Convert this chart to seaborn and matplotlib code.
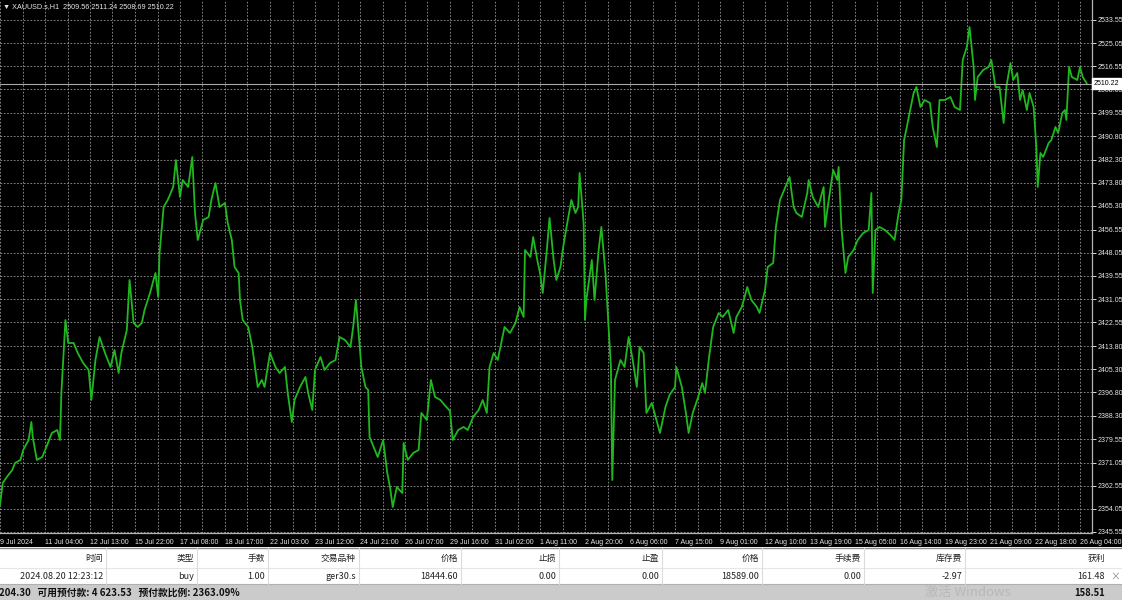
import matplotlib
matplotlib.use("Agg")
import matplotlib.pyplot as plt
import matplotlib.transforms as mtransforms
from matplotlib.patches import Rectangle
from matplotlib.ticker import FixedLocator
import numpy as np
import pandas as pd
import seaborn as sns

# ---------------- data ----------------
bars = [0, 2, 5, 9, 11, 15, 17, 21, 23, 24, 27, 31, 34, 38, 42, 44, 45, 48, 50, 54,
        57, 61, 65, 67, 70, 73, 77, 81, 84, 87, 89, 93, 95, 98, 101, 104, 106, 110, 114, 116,
        117, 120, 123, 127, 129, 132, 134, 138, 141, 143, 145, 149, 153, 155, 158, 161, 165, 167, 170, 172,
        175, 176, 178, 182, 185, 187, 189, 192, 194, 198, 202, 205, 209, 211, 214, 216, 220, 224, 226, 229,
        231, 235, 238, 242, 246, 249, 253, 257, 259, 261, 263, 265, 268, 270, 271, 274, 277, 281, 284, 286,
        288, 291, 295, 296, 299, 303, 307, 309, 313, 316, 319, 323, 326, 330, 332, 336, 340, 343, 347, 351,
        354, 357, 359, 362, 365, 368, 370, 374, 378, 381, 384, 385, 389, 391, 394, 396, 398, 401, 403, 406,
        408, 411, 413, 416, 419, 422, 424, 425, 428, 429, 430, 434, 436, 439, 441, 444, 446, 448, 449, 451,
        455, 458, 461, 464, 467, 469, 472, 474, 478, 480, 484, 488, 491, 495, 496, 500, 503, 505, 508, 512,
        515, 517, 520, 523, 527, 530, 534, 538, 540, 544, 548, 551, 555, 557, 561, 563, 567, 569, 572, 576,
        579, 582, 584, 588, 592, 593, 596, 600, 604, 605, 607, 611, 614, 615, 617, 620, 622, 626, 629, 633,
        637, 639, 640, 642, 645, 649, 653, 656, 659, 661, 663, 665, 667, 670, 672, 675, 678, 682, 684, 687,
        689, 693, 697, 700, 704, 706, 709, 711, 714, 715, 717, 721, 725, 727, 730, 733, 736, 738, 741, 743,
        746, 748, 750, 753, 755, 758, 760, 761, 763, 765, 769, 771, 774, 776, 779, 781, 782, 784, 786, 790,
        792, 794, 797]

close = [2355.45, 2363.53, 2365.74, 2368.31, 2370.88, 2371.98, 2375.65, 2379.32, 2385.93, 2380.42,
         2371.98, 2373.08, 2376.75, 2381.89, 2382.99, 2379.32, 2396.58, 2423.39, 2414.94, 2414.94,
         2411.27, 2407.60, 2405.03, 2394.01, 2408.70, 2417.14, 2411.27, 2406.13, 2412.37, 2403.92,
         2411.27, 2419.71, 2438.07, 2422.28, 2420.82, 2422.28, 2427.06, 2433.30, 2440.64, 2431.83,
         2447.99, 2464.88, 2467.45, 2472.22, 2482.14, 2468.55, 2474.79, 2472.22, 2483.24, 2462.68,
         2452.76, 2460.11, 2461.21, 2467.45, 2473.69, 2464.88, 2466.35, 2459.00, 2452.76, 2442.85,
         2440.64, 2430.73, 2423.39, 2420.82, 2413.47, 2406.13, 2398.78, 2401.35, 2398.78, 2411.27,
         2406.13, 2403.92, 2406.13, 2396.58, 2385.93, 2394.01, 2398.78, 2402.46, 2396.58, 2390.34,
         2405.03, 2409.80, 2405.03, 2407.60, 2408.70, 2417.14, 2416.04, 2413.47, 2420.82, 2430.73,
         2418.61, 2406.13, 2398.78, 2397.68, 2380.42, 2376.75, 2373.08, 2379.32, 2367.20, 2362.06,
         2354.72, 2362.06, 2359.86, 2378.22, 2371.98, 2374.55, 2375.65, 2389.24, 2386.67, 2401.35,
         2395.11, 2394.01, 2392.17, 2389.97, 2379.32, 2382.99, 2384.10, 2382.99, 2387.77, 2390.34,
         2394.01, 2389.24, 2406.13, 2411.27, 2408.70, 2416.04, 2420.82, 2418.61, 2422.28, 2428.16,
         2424.49, 2449.09, 2446.52, 2453.86, 2445.42, 2440.64, 2433.30, 2449.09, 2460.84, 2445.42,
         2438.07, 2442.85, 2450.19, 2459.00, 2467.45, 2462.68, 2464.88, 2477.36, 2459.00, 2423.39,
         2430.73, 2445.42, 2430.73, 2449.09, 2457.54, 2440.64, 2423.39, 2406.13, 2364.63, 2401.35,
         2408.70, 2406.13, 2417.14, 2408.70, 2398.78, 2413.47, 2411.27, 2389.24, 2392.91, 2389.24,
         2381.89, 2391.44, 2395.85, 2398.78, 2406.13, 2398.78, 2389.24, 2381.89, 2389.24, 2395.11,
         2400.25, 2396.58, 2409.80, 2420.82, 2425.96, 2424.49, 2427.06, 2418.61, 2424.49, 2428.16,
         2435.50, 2430.73, 2428.16, 2425.96, 2434.40, 2442.85, 2444.32, 2457.54, 2467.45, 2472.22,
         2475.90, 2464.88, 2462.68, 2461.21, 2470.02, 2474.79, 2468.55, 2464.88, 2472.22, 2457.54,
         2464.88, 2478.47, 2474.79, 2479.57, 2457.54, 2440.64, 2446.52, 2449.09, 2452.76, 2455.33,
         2456.43, 2470.02, 2433.30, 2456.43, 2457.54, 2456.43, 2454.60, 2452.76, 2462.68, 2467.45,
         2489.48, 2494.26, 2499.40, 2506.74, 2508.94, 2501.60, 2504.17, 2503.07, 2494.26, 2486.91,
         2504.17, 2504.17, 2505.27, 2501.60, 2500.50, 2518.86, 2523.63, 2530.98, 2516.29, 2504.17,
         2512.62, 2515.19, 2516.29, 2518.86, 2508.94, 2508.94, 2495.72, 2508.94, 2517.76, 2511.51,
         2514.08, 2504.17, 2507.84, 2500.50, 2506.74, 2501.60, 2486.91, 2472.22, 2484.71, 2483.24,
         2488.38, 2489.48, 2494.26, 2492.05, 2499.40, 2500.50, 2496.83, 2516.29, 2512.62, 2511.51,
         2516.29, 2512.62, 2510.22]

price_ticks = [2533.55, 2525.05, 2516.55, 2508.05, 2499.55, 2490.80, 2482.30, 2473.80,
               2465.30, 2456.55, 2448.05, 2439.55, 2431.05, 2422.55, 2413.80, 2405.30,
               2396.80, 2388.30, 2379.55, 2371.05, 2362.55, 2354.05, 2345.55]

time_labels = ["9 Jul 2024", "11 Jul 04:00", "12 Jul 13:00", "15 Jul 22:00", "17 Jul 08:00",
               "18 Jul 17:00", "22 Jul 03:00", "23 Jul 12:00", "24 Jul 21:00", "26 Jul 07:00",
               "29 Jul 16:00", "31 Jul 02:00", "1 Aug 11:00", "2 Aug 20:00", "6 Aug 06:00",
               "7 Aug 15:00", "9 Aug 01:00", "12 Aug 10:00", "13 Aug 19:00", "15 Aug 05:00",
               "16 Aug 14:00", "19 Aug 23:00", "21 Aug 09:00", "22 Aug 18:00", "26 Aug 04:00"]
bars_per_label = 33

last_price = 2510.22
chart_title = "▼ XAUUSD.s,H1  2509.56 2511.24 2508.69 2510.22"

table_headers = ["时间", "类型", "手数", "交易品种", "价格", "止损", "止盈", "价格", "手续费", "库存费", "获利"]
table_row = ["2024.08.20 12:23:12", "buy", "1.00", "ger30.s", "18444.60", "0.00", "0.00",
             "18589.00", "0.00", "-2.97", "161.48"]
summary_left = "204.30   可用预付款: 4 623.53   预付款比例: 2363.09%"
summary_right = "158.51"
watermark = "激活 Windows"

assert len(bars) == len(close)

# ---------------- style ----------------
sns.set_theme(style="dark")
plt.rcParams["font.family"] = ["Liberation Sans", "DejaVu Sans"]
plt.rcParams["axes.unicode_minus"] = False

W, H = 1122, 600
fig = plt.figure(figsize=(W / 100, H / 100), dpi=100, facecolor="black")

plot_right = 1092
plot_bottom = 533
ax = fig.add_axes([0, (H - plot_bottom) / H, plot_right / W, plot_bottom / H])
ax.set_facecolor("black")

df = pd.DataFrame({"bar": bars, "close": close})
sns.lineplot(data=df, x="bar", y="close", estimator=None, sort=False,
             color="#1fb81f", linewidth=1.3, ax=ax)

ax.set_xlim(0, 800.8)
ax.set_ylim(2345.17, 2540.89)
ax.set_xlabel("")
ax.set_ylabel("")

# grid
major_x = [i * bars_per_label for i in range(len(time_labels))]
minor_x = [i * bars_per_label + bars_per_label / 2 for i in range(len(time_labels))]
ax.xaxis.set_major_locator(FixedLocator(major_x))
ax.xaxis.set_minor_locator(FixedLocator(minor_x))
ax.set_xticklabels(time_labels)
ax.yaxis.tick_right()
ax.set_yticks(price_ticks)
ax.set_yticklabels([f"{p:.2f}" for p in price_ticks])

grid_kw = dict(color="#9a9a9a", linestyle=(0, (2, 2)), linewidth=0.6)
ax.grid(True, which="major", axis="both", **grid_kw)
ax.grid(True, which="minor", axis="x", **grid_kw)
ax.set_axisbelow(True)

for s in ["top", "left"]:
    ax.spines[s].set_visible(False)
for s in ["right", "bottom"]:
    ax.spines[s].set_visible(True)
    ax.spines[s].set_color("#b4b4b4")
    ax.spines[s].set_linewidth(0.9)

ax.tick_params(axis="y", which="major", colors="#d8d8d8", labelsize=5.0, length=3,
               direction="out", pad=1.2, width=0.7)
ax.tick_params(axis="x", which="major", colors="#d8d8d8", labelsize=5.0, length=3,
               direction="out", pad=1.5, width=0.7)
ax.tick_params(axis="x", which="minor", length=0)
for lbl in ax.get_xticklabels():
    lbl.set_ha("left")
    lbl.set_color("#e6e6e6")
for lbl in ax.get_yticklabels():
    lbl.set_color("#e6e6e6")

# current price line & label
ax.axhline(last_price, color="#a8a8a8", linewidth=0.8)
trans = mtransforms.blended_transform_factory(ax.transAxes, ax.transData)
ax.text(1.0012, last_price, f"{last_price:.2f}", transform=trans, ha="left", va="center",
        fontsize=5.0, color="black", clip_on=False, zorder=10,
        bbox=dict(boxstyle="square,pad=0.25", facecolor="white", edgecolor="white"))

# title
fig.text(3 / W, 1 - 6.5 / H, chart_title, fontsize=5.2, color="#e6e6e6", va="center", ha="left",
         family=["Liberation Sans", "DejaVu Sans"])

# ---------------- bottom table ----------------
tax = fig.add_axes([0, 0, 1, 53 / H])
tax.set_xlim(0, W)
tax.set_ylim(H, H - 53)
tax.axis("off")

cjk = ["Noto Sans CJK SC", "DejaVu Sans"]
tax.add_patch(Rectangle((0, 547), W, 37, facecolor="white", edgecolor="none"))
tax.add_patch(Rectangle((0, 584), W, 16, facecolor="#cbcbcb", edgecolor="none"))
tax.plot([0, W], [547.5, 547.5], color="#8a8a8a", lw=1)
tax.plot([0, W], [567.5, 567.5], color="#e6e6e6", lw=0.8)
tax.plot([0, W], [584, 584], color="#b0b0b0", lw=0.8)

col_edges = [106, 197, 268, 359, 461, 559, 662, 762, 864, 965, 1108]
for xe in col_edges[:-1]:
    tax.plot([xe, xe], [548, 584], color="#dcdcdc", lw=0.8)

for i, (h, v) in enumerate(zip(table_headers, table_row)):
    xr = col_edges[i] - 3
    tax.text(xr, 558, h, ha="right", va="center", fontsize=6.3, color="#222222", family=cjk)
    tax.text(xr, 576.5, v, ha="right", va="center", fontsize=6.5, color="#222222", family=cjk)
tax.text(1115, 576.5, "×", ha="center", va="center", fontsize=7, color="#888888", family=cjk)

tax.text(-1, 592.5, summary_left, ha="left", va="center", fontsize=7.0, color="#111111",
         fontweight="bold", family=cjk)
tax.text(1105, 592.5, summary_right, ha="right", va="center", fontsize=6.8, color="#111111",
         fontweight="bold", family=cjk)
tax.text(925, 592.5, watermark, ha="left", va="center", fontsize=9.5, color="#b8b8b8", family=cjk)

fig.savefig("out.png", dpi=100, facecolor="black")
